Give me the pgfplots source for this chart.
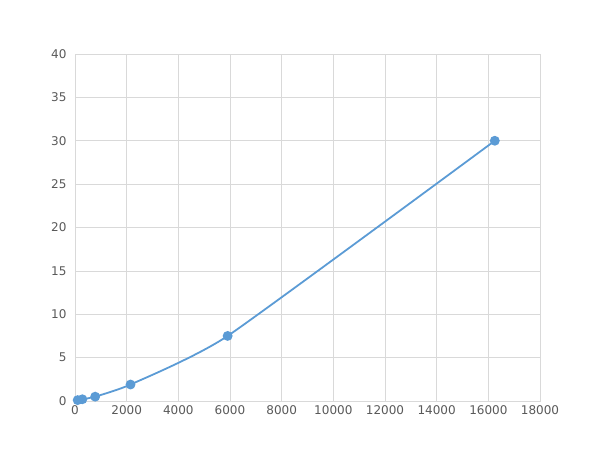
\documentclass[border=0pt]{standalone}
\usepackage{fontspec}
\setmainfont{DejaVu Sans}
\usepackage{pgfplots}
\pgfplotsset{compat=1.18}
\definecolor{serie}{HTML}{5B9BD5}
\definecolor{gridc}{HTML}{D9D9D9}
\definecolor{txt}{HTML}{595959}
\begin{document}
\begin{tikzpicture}
\useasboundingbox (-75bp,-49bp) rectangle (525bp,401bp);
\begin{axis}[
	at={(0,0)},anchor=south west,
	scale only axis,
	width=465bp,height=347bp,
	xmin=0,xmax=18000,ymin=0,ymax=40,
	xtick={0,2000,...,18000},
	ytick={0,5,...,40},
	scaled x ticks=false,
	grid=major,
	major grid style={gridc,line width=0.75pt},
	axis line style={gridc,line width=0.75pt},
	major tick length=0pt,
	tick label style={font=\fontsize{12bp}{14bp}\selectfont,text=txt},
	/pgf/number format/assume math mode=true,
	/pgf/number format/1000 sep={},
	xticklabel style={yshift=-1bp},
	yticklabel style={xshift=-5bp},
	]
\addplot[serie,line width=1.8pt,smooth,tension=0.3,mark=*,mark size=4pt,mark options={fill=serie,draw=serie}]
	coordinates {
	(103,0.1)
	(284,0.2)
	(781,0.5)
	(2149,1.9)
	(5909,7.5)
	(16250,30)
	};
\end{axis}
\end{tikzpicture}
\end{document}
